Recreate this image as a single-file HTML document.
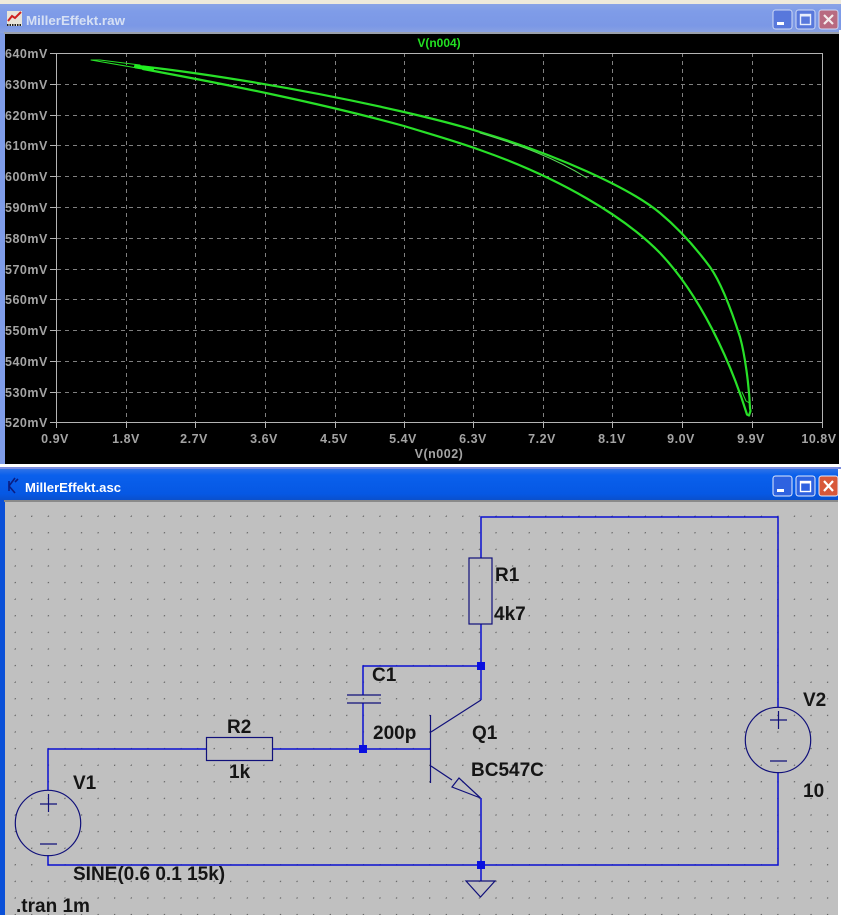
<!DOCTYPE html>
<html>
<head>
<meta charset="utf-8">
<style>
html,body{margin:0;padding:0;background:#fff;}
body{width:841px;height:915px;overflow:hidden;position:relative;}
svg{position:absolute;left:0;top:0;display:block;}
.tt{font:bold 13px "Liberation Sans",sans-serif;}
.ax{font:bold 12.5px "Liberation Sans",sans-serif;fill:#a4a4a4;letter-spacing:.5px;}
.lb{font:bold 19px "Liberation Sans",sans-serif;fill:#151515;}
</style>
</head>
<body>
<svg width="841" height="915" viewBox="0 0 841 915" xmlns="http://www.w3.org/2000/svg">
<defs>
<linearGradient id="t1" x1="0" y1="0" x2="0" y2="1">
<stop offset="0" stop-color="#8ba4e6"/><stop offset=".25" stop-color="#7f9ce8"/><stop offset=".75" stop-color="#7b98e6"/><stop offset="1" stop-color="#8aa2e2"/>
</linearGradient>
<linearGradient id="t2" x1="0" y1="0" x2="0" y2="1">
<stop offset="0" stop-color="#2f72e6"/><stop offset=".2" stop-color="#0a60ec"/><stop offset=".8" stop-color="#0658e4"/><stop offset="1" stop-color="#0a50cc"/>
</linearGradient>
<pattern id="dots" x="15" y="516" width="16.58" height="16.6" patternUnits="userSpaceOnUse">
<rect x="-.5" y="-.5" width="1.2" height="1.2" fill="#444"/>
<rect x="16.08" y="-.5" width="1" height="1.2" fill="#444"/>
<rect x="-.5" y="16.1" width="1.2" height="1" fill="#444"/>
</pattern>
</defs>

<!-- top strip -->
<rect x="0" y="0" width="841" height="4" fill="#efeadb"/>

<!-- plot window -->
<rect x="0" y="4" width="841" height="463" fill="#7f9ce8"/>
<rect x="0" y="4" width="841" height="29" fill="url(#t1)"/>
<rect x="4" y="32" width="836" height="2" fill="#9aa0ac"/>
<rect x="5" y="34" width="834" height="430" fill="#000"/>
<rect x="839" y="30" width="2" height="437" fill="#fff"/>
<rect x="0" y="464" width="841" height="3" fill="#fff"/>

<!-- plot title icon -->
<rect x="7" y="11" width="15" height="15" fill="#e8e4d8"/>
<path d="M8 21 L12 16 L15 18 L21 12" stroke="#d02020" stroke-width="2" fill="none"/>
<path d="M7 25 H22" stroke="#222" stroke-width="2" stroke-dasharray="1.5 1"/>
<text x="26" y="25" class="tt" fill="#d6e0f4" textLength="99" lengthAdjust="spacingAndGlyphs">MillerEffekt.raw</text>

<!-- plot buttons -->
<g stroke="#cfdaf4" stroke-width="1">
<rect x="773" y="10" width="19" height="19" rx="2.5" fill="#5878dc"/>
<rect x="796" y="10" width="19" height="19" rx="2.5" fill="#5878dc"/>
<rect x="819" y="10" width="19" height="19" rx="2.5" fill="#b86a80"/>
</g>
<rect x="777" y="22" width="7" height="3" fill="#fff"/>
<rect x="800.5" y="14.5" width="10" height="10" fill="none" stroke="#e8eefc" stroke-width="1.4"/>
<rect x="800" y="14" width="11" height="2.5" fill="#e8eefc"/>
<path d="M824 15 L833 24 M833 15 L824 24" stroke="#f4ecec" stroke-width="2.2"/>

<!-- plot grid -->
<g stroke="#808080" stroke-width="1" stroke-dasharray="4 4" fill="none">
<path d="M57 84.5H822M57 115.5H822M57 145.5H822M57 176.5H822M57 207.5H822M57 238.5H822M57 269.5H822M57 299.5H822M57 330.5H822M57 361.5H822M57 392.5H822"/>
<path d="M126.5 53V422M195.5 53V422M265.5 53V422M335.5 53V422M404.5 53V422M473.5 53V422M543.5 53V422M612.5 53V422M682.5 53V422M752.5 53V422"/>
</g>
<g stroke="#b4b4b4" stroke-width="1" fill="none">
<rect x="56.5" y="53.5" width="766" height="369"/>
<path d="M50 53.5H57M50 84.5H57M50 115.5H57M50 145.5H57M50 176.5H57M50 207.5H57M50 238.5H57M50 269.5H57M50 299.5H57M50 330.5H57M50 361.5H57M50 392.5H57M50 422.5H57"/>
<path d="M56.5 422V428M126.5 422V428M195.5 422V428M265.5 422V428M335.5 422V428M404.5 422V428M473.5 422V428M543.5 422V428M612.5 422V428M682.5 422V428M752.5 422V428M822.5 422V428"/>
</g>

<!-- axis labels -->
<text x="5" y="58" class="ax">640mV</text>
<text x="5" y="89" class="ax">630mV</text>
<text x="5" y="120" class="ax">620mV</text>
<text x="5" y="150" class="ax">610mV</text>
<text x="5" y="181" class="ax">600mV</text>
<text x="5" y="212" class="ax">590mV</text>
<text x="5" y="243" class="ax">580mV</text>
<text x="5" y="274" class="ax">570mV</text>
<text x="5" y="304" class="ax">560mV</text>
<text x="5" y="335" class="ax">550mV</text>
<text x="5" y="366" class="ax">540mV</text>
<text x="5" y="397" class="ax">530mV</text>
<text x="5" y="427" class="ax">520mV</text>
<g text-anchor="middle">
<text x="55" y="443" class="ax">0.9V</text>
<text x="126" y="443" class="ax">1.8V</text>
<text x="194" y="443" class="ax">2.7V</text>
<text x="264" y="443" class="ax">3.6V</text>
<text x="334" y="443" class="ax">4.5V</text>
<text x="403" y="443" class="ax">5.4V</text>
<text x="473" y="443" class="ax">6.3V</text>
<text x="542" y="443" class="ax">7.2V</text>
<text x="612" y="443" class="ax">8.1V</text>
<text x="681" y="443" class="ax">9.0V</text>
<text x="751" y="443" class="ax">9.9V</text>
<text x="819" y="443" class="ax">10.8V</text>
<text x="439" y="47" style="font:bold 12px 'Liberation Sans',sans-serif;fill:#22e022;">V(n004)</text>
<text x="439" y="458" class="ax">V(n002)</text>
</g>

<!-- curves -->
<g fill="none" stroke="#28e028" stroke-linejoin="round" stroke-linecap="round">
<path stroke-width="2.2" d="M143 66.5 C200 73 300 88 404 112 C430 118 455 124 480 132 C555 154 630 188 660 213 C672 223 690 240 710 267 C722 284 733 315 740 337 C745 355 749 385 750 408 L750.5 411 L749 415.5 L747 414.5 C730 360 700 295 660 253 C625 217 560 178 480 150 C455 141 430 134 404 126 C320 103 230 85 143 69"/>
<path stroke-width="4" stroke="#20f020" d="M136 66.5 L152 69"/>
<path stroke-width="1" d="M140 65 L100 60 L91 60 L137 68"/>
<path stroke-width="1" stroke="#58d858" d="M480 133 C520 145 555 158 587 178"/>
<path stroke-width="1" d="M742 392 L746 401 L749.5 403"/>
</g>

<!-- schematic window -->
<rect x="0" y="467" width="841" height="448" fill="#0a5ce6"/>
<rect x="0" y="467" width="841" height="2" fill="#7d8ee0"/>
<rect x="0" y="469" width="841" height="31" fill="url(#t2)"/>
<rect x="838" y="469" width="3" height="446" fill="#fff"/>
<rect x="0" y="500" width="5" height="415" fill="#0a50d8"/>
<rect x="4" y="500" width="834" height="2" fill="#8a8a8a"/>
<rect x="5" y="502" width="833" height="413" fill="#c0c0c0"/>
<rect x="5" y="502" width="833" height="413" fill="url(#dots)"/>

<!-- schematic title -->
<path d="M15 478 L9 486 L15 493 M9 481 V491 M18 479 L15 482" stroke="#0a1c80" stroke-width="1.6" fill="none"/>
<text x="25" y="492" class="tt" fill="#fff" textLength="96" lengthAdjust="spacingAndGlyphs">MillerEffekt.asc</text>

<g stroke="#e4ecfc" stroke-width="1">
<rect x="773" y="476" width="19" height="20" rx="2.5" fill="#2e62e0"/>
<rect x="796" y="476" width="19" height="20" rx="2.5" fill="#2e62e0"/>
<rect x="819" y="476" width="19" height="20" rx="2.5" fill="#d8583a"/>
</g>
<rect x="777" y="489" width="7" height="3" fill="#fff"/>
<rect x="800.5" y="481.5" width="10" height="10" fill="none" stroke="#fff" stroke-width="1.4"/>
<rect x="800" y="481" width="11" height="2.5" fill="#fff"/>
<path d="M824 481 L833 491 M833 481 L824 491" stroke="#fff" stroke-width="2.2"/>

<!-- wires -->
<g fill="none" stroke="#0a10d0" stroke-width="1.5">
<path d="M481 558 V517 H778 V707"/>
<path d="M778 772 V865 H48 V855"/>
<path d="M48 790 V749 H206"/>
<path d="M272 749 H430"/>
<path d="M363 749 V703"/>
<path d="M363 695 V666 H481"/>
<path d="M481 624 V700"/>
<path d="M481 798 V881"/>
</g>

<!-- components -->
<g fill="none" stroke="#10107a" stroke-width="1.2">
<rect x="206.5" y="737.5" width="66" height="23"/>
<rect x="469" y="558" width="23" height="66"/>
<circle cx="48" cy="823" r="32.7"/>
<circle cx="778" cy="740" r="32.7"/>
<path d="M40 804 H57 M48.5 794 V812 M40 844 H57"/>
<path d="M770 720 H787 M778.5 711 V729 M770 761 H787"/>
<path d="M347 695 H381 M347 703 H381"/>
<path d="M430.5 715 V783"/>
<path d="M431 732 L481 700"/>
<path d="M431 766 L452 780"/>
<path d="M459 778 L452 787 L480.5 798 Z"/>
<path d="M466 881 H495 L480.5 897 Z"/>
</g>

<!-- junctions -->
<g fill="#0a10e0">
<rect x="477" y="662" width="8" height="8"/>
<rect x="359" y="745" width="8" height="8"/>
<rect x="477" y="861" width="8" height="8"/>
</g>

<!-- labels -->
<text x="495" y="581" class="lb">R1</text>
<text x="494" y="620" class="lb">4k7</text>
<text x="372" y="681" class="lb">C1</text>
<text x="373" y="739" class="lb">200p</text>
<text x="472" y="739" class="lb">Q1</text>
<text x="471" y="776" class="lb">BC547C</text>
<text x="227" y="733" class="lb">R2</text>
<text x="229" y="778" class="lb">1k</text>
<text x="73" y="789" class="lb">V1</text>
<text x="73" y="880" class="lb">SINE(0.6 0.1 15k)</text>
<text x="16" y="912" class="lb">.tran 1m</text>
<text x="803" y="706" class="lb">V2</text>
<text x="803" y="797" class="lb">10</text>
</svg>
</body>
</html>
